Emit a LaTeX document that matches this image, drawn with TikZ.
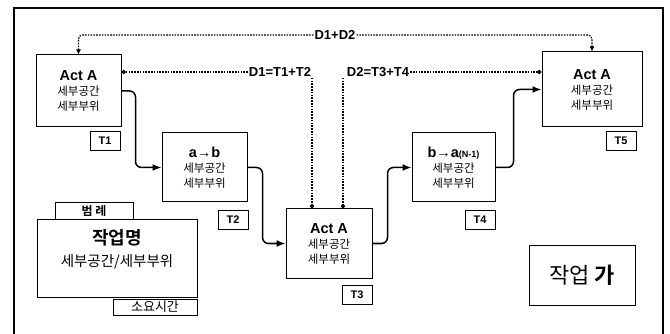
\documentclass[tikz,border=0pt]{standalone}
\usepackage{fontspec}
\setmainfont{Liberation Sans}
\newfontfamily\kr{Noto Sans CJK KR}[BoldFont={Noto Sans CJK KR Bold}]
\usetikzlibrary{arrows.meta}
\newcommand\acttitle[1]{{\fontsize{14.5}{15}\selectfont\bfseries #1}}
\begin{document}
\begin{tikzpicture}[x=1pt,y=-1pt,
  act/.style={draw, line width=1pt, inner sep=0pt, align=center, font=\fontsize{11.5}{15}\selectfont},
  tbox/.style={draw, line width=1pt, minimum width=30pt, minimum height=19pt, inner sep=0pt, font=\fontsize{11}{12}\selectfont\bfseries},
  plain/.style={draw, line width=1pt, inner sep=0pt},
  flow/.style={line width=1.5pt, rounded corners=6pt, -{Latex[length=9pt,width=7pt]}},
  dline/.style={line width=1.1pt, dash pattern=on 1.6pt off 1.2pt},
  dlab/.style={font=\fontsize{13}{14}\selectfont\bfseries, inner sep=1pt},
  tipA/.style={-{Latex[length=5pt,width=5pt]}},
  tipC/.style={-{Circle[length=4.5pt]}},
]
\useasboundingbox (0,0) rectangle (670,334);
\draw[line width=1.1pt] (14,345) -- (14,8) -- (663,8) -- (663,345);

% activity boxes
\node[act, minimum width=85pt, minimum height=72pt] (b1) at (78.5,91)
  {\acttitle{Act A}\\ {\kr 세부공간}\\ {\kr 세부부위}};
\node[act, minimum width=85pt, minimum height=69pt] (b2) at (204.5,167.5)
  {\acttitle{a→b}\\ {\kr 세부공간}\\ {\kr 세부부위}};
\node[act, minimum width=86pt, minimum height=69pt] (b3) at (329,243.5)
  {\acttitle{Act A}\\ {\kr 세부공간}\\ {\kr 세부부위}};
\node[act, minimum width=83pt, minimum height=69pt] (b4) at (453.5,167.5)
  {\acttitle{b→a{\fontsize{9}{10}\selectfont(N-1)}}\\ {\kr 세부공간}\\ {\kr 세부부위}};
\node[act, minimum width=100pt, minimum height=75pt] (b5) at (592,89.5)
  {\acttitle{Act A}\\ {\kr 세부공간}\\ {\kr 세부부위}};

% time boxes
\node[tbox] (t1) at (105,141) {T1};
\node[tbox] (t2) at (233,220) {T2};
\node[tbox] (t3) at (357,295) {T3};
\node[tbox] (t4) at (480,220) {T4};
\node[tbox] (t5) at (621,141) {T5};

% solid flow arrows
\draw[flow] (b1.east) -- ++(14,0) |- (b2.west);
\draw[flow] (b2.east) -- ++(15,0) |- (b3.west);
\draw[flow] (b3.east) -- ++(15,0) |- (b4.west);
\draw[flow] (b4.east) -- ++(18,0) |- (b5.west);

% dotted duration lines
\node[dlab] (d12) at (335,35) {D1+D2};
\draw[dline, tipA, rounded corners=4pt] (d12.west) -| (b1.north);
\draw[dline, tipA, rounded corners=4pt] (d12.east) -| (b5.north);

\node[dlab] (d1) at (280,72) {D1=T1+T2};
\node[dlab] (d2) at (378,72) {D2=T3+T4};
\coordinate (c3a) at ([xshift=-17pt]b3.north);
\coordinate (c3b) at ([xshift=14pt]b3.north);
\draw[dline, tipC] (d1.west) -- (d1.west -| b1.east);
\draw[dline, tipC] (d1.south -| c3a) -- (c3a);
\draw[dline, tipC] (d2.east) -- (d2.east -| b5.west);
\draw[dline, tipC] (d2.south -| c3b) -- (c3b);

% legend
\node[plain, minimum width=160pt, minimum height=77pt] (leg) at (117,258.5) {};
\node[plain, minimum width=78pt, minimum height=17pt, font=\fontsize{12}{13}\selectfont\kr\bfseries] (tab) at (94,211.5) {범 례};
\node[font=\fontsize{18}{20}\selectfont\kr\bfseries] (lname) at (117,238) {작업명};
\node[font=\fontsize{14.5}{16}\selectfont\kr] (lsub) at (117,262) {세부공간/세부부위};
\node[plain, minimum width=84pt, minimum height=16pt, font=\fontsize{13}{14}\selectfont\kr] (ltime) at (155,307) {소요시간};

% work title
\node[plain, minimum width=106pt, minimum height=60pt, font=\fontsize{22}{24}\selectfont\kr] (work) at (582,275) {작업 {\bfseries 가}};
\end{tikzpicture}
\end{document}
